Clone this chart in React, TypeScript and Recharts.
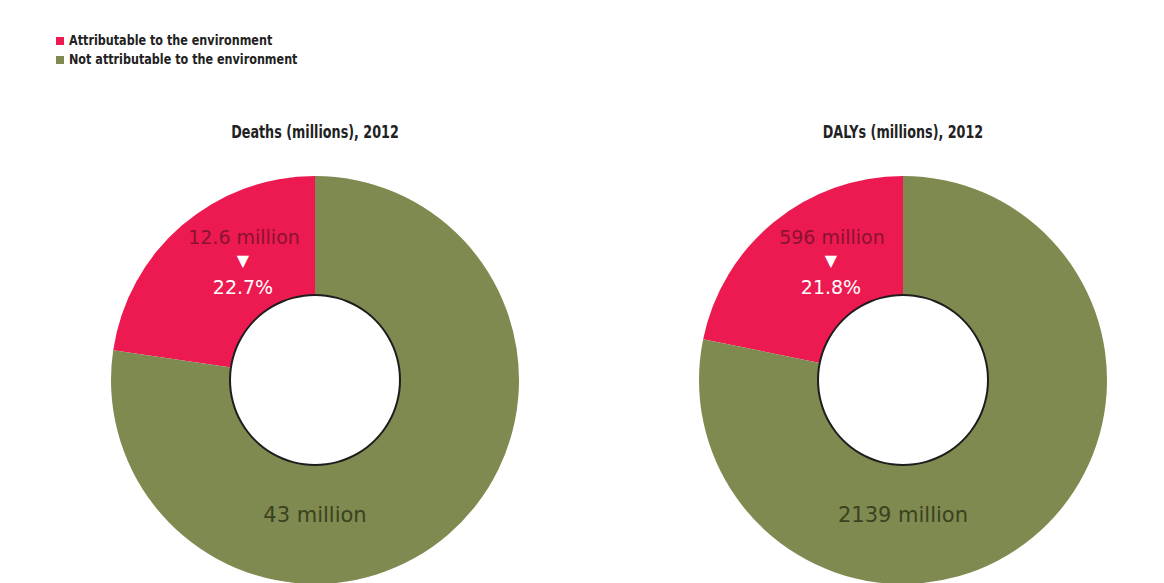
import React from "react";
import { PieChart, Pie, Cell } from "recharts";

const categories = ["Attributable to the environment", "Not attributable to the environment"];
const chartTitles = ["Deaths (millions), 2012", "DALYs (millions), 2012"];
const deathsValues = [12.6, 43];
const dalysValues = [596, 2139];
const valueLabels = [
  ["12.6 million", "43 million"],
  ["596 million", "2139 million"],
];
const shareLabels = ["22.7%", "21.8%"];

const COLORS = ["#EC1A50", "#7E8A4F"];
const LABEL_FONT = "'DejaVu Sans', sans-serif";
const SLICE_FONT = "'DejaVu Sans', sans-serif";

const W = 1164;
const H = 583;
const MARGIN = 5;
// chart centres in page pixels; Pie cx/cy are measured inside the chart margin
const CENTERS = [
  { cx: 315, cy: 380 },
  { cx: 903, cy: 380 },
];

function toData(values: number[]) {
  return values.map((v, i) => ({ name: categories[i], value: v }));
}

function makeLabel(chart: number) {
  return (props: any) => {
    const { cx, cy, index } = props;
    if (index === 0) {
      return (
        <g>
          <text x={cx - 71} y={cy - 136} textAnchor="middle" fill="#8A1230" fontSize={19} fontFamily={SLICE_FONT}>
            {valueLabels[chart][0]}
          </text>
          <text x={cx - 72} y={cy - 114} textAnchor="middle" fill="#ffffff" fontSize={16} fontFamily={SLICE_FONT}>
            ▼
          </text>
          <text x={cx - 72} y={cy - 86} textAnchor="middle" fill="#ffffff" fontSize={19} fontFamily={SLICE_FONT}>
            {shareLabels[chart]}
          </text>
        </g>
      );
    }
    return (
      <text x={cx} y={cy + 142} textAnchor="middle" fill="#3A4220" fontSize={21} fontFamily={SLICE_FONT}>
        {valueLabels[chart][1]}
      </text>
    );
  };
}

export default function App() {
  const series = [deathsValues, dalysValues];
  return (
    <div style={{ position: "relative", width: W, height: H, background: "#fff" }}>
      <style>{`body{margin:0;overflow:hidden}`}</style>
      <div
        style={{
          position: "absolute",
          left: 56,
          top: 31,
          fontFamily: LABEL_FONT,
          fontWeight: 700,
          fontSize: 14,
          color: "#222",
          lineHeight: "19px",
        }}
      >
        {categories.map((c, i) => (
          <div key={c} style={{ display: "flex", alignItems: "center" }}>
            <span style={{ display: "inline-block", width: 8, height: 8, background: COLORS[i], marginRight: 5 }} />
            <span style={{ display: "inline-block", transform: "scaleX(0.8)", transformOrigin: "left center", whiteSpace: "nowrap" }}>
              {c}
            </span>
          </div>
        ))}
      </div>
      {chartTitles.map((t, i) => (
        <div
          key={t}
          style={{
            position: "absolute",
            left: CENTERS[i].cx - 150,
            width: 300,
            top: 122,
            textAlign: "center",
            fontFamily: LABEL_FONT,
            fontWeight: 700,
            fontSize: 17,
            color: "#222",
            transform: "scaleX(0.75)",
            transformOrigin: "center",
            whiteSpace: "nowrap",
          }}
        >
          {t}
        </div>
      ))}
      <div style={{ position: "absolute", left: 0, top: 0 }}>
        <PieChart width={W} height={H} margin={{ top: MARGIN, right: MARGIN, bottom: MARGIN, left: MARGIN }}>
          {series.map((vals, s) => (
            <Pie
              key={`pie-${s}`}
              data={toData(vals)}
              dataKey="value"
              nameKey="name"
              cx={CENTERS[s].cx - MARGIN}
              cy={CENTERS[s].cy - MARGIN}
              innerRadius={85}
              outerRadius={204}
              startAngle={90}
              endAngle={450}
              stroke="none"
              label={makeLabel(s)}
              labelLine={false}
              isAnimationActive={false}
            >
              {vals.map((_, i) => (
                <Cell key={i} fill={COLORS[i]} />
              ))}
            </Pie>
          ))}
          {series.map((_, s) => (
            <Pie
              key={`ring-${s}`}
              data={[{ name: "ring", value: 1 }]}
              dataKey="value"
              cx={CENTERS[s].cx - MARGIN}
              cy={CENTERS[s].cy - MARGIN}
              innerRadius={84}
              outerRadius={86}
              stroke="none"
              fill="#1d1d1d"
              isAnimationActive={false}
            />
          ))}
        </PieChart>
      </div>
    </div>
  );
}
